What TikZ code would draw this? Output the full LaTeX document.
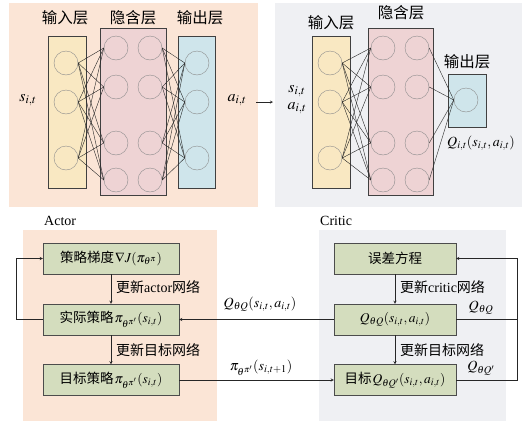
\documentclass[tikz,border=0pt]{standalone}
\usepackage{mathptmx}
\usepackage[no-math]{fontspec}
\setmainfont{Liberation Serif}
\newfontfamily\cjk{Noto Sans CJK SC}
\usepackage{tikz}
\usetikzlibrary{arrows.meta}

\definecolor{peachbg}{HTML}{FBE5D6}
\definecolor{graybg}{HTML}{EFF0F3}
\definecolor{inyellow}{HTML}{F9E8C2}
\definecolor{hidpink}{HTML}{EED3D4}
\definecolor{outblue}{HTML}{CFE5EB}
\definecolor{boxgreen}{HTML}{D4DDBE}
\newcommand{\zh}[1]{{\cjk #1}}

\begin{document}
\begin{tikzpicture}
[x=1pt,y=-1pt,%
  layer/.style={draw=black!75,thin,inner sep=0pt},%
  neuron/.style={shape=circle,draw=black!45,thin,minimum size=24pt,inner sep=0pt},%
  link/.style={-,black!85,thin},%
  title/.style={font=\fontsize{15.5}{17}\selectfont,inner sep=1pt},%
  var/.style={font=\fontsize{16}{18}\selectfont,inner sep=1pt},%
  stepbox/.style={draw=black!70,fill=boxgreen,minimum height=31pt,inner sep=1pt,%
    font=\fontsize{13.5}{15}\selectfont},%
  lbl/.style={font=\fontsize{14}{16}\selectfont,inner sep=1pt},%
  flow/.style={->,>=stealth,thin,black!85}]
\useasboundingbox (0,0) rectangle (528,429);
%% actor network
\fill[peachbg] (9,3) rectangle (258,207);
\node[layer,fill=inyellow,minimum width=38pt,minimum height=152pt] (aIn) at (67,112) {};
\node[layer,fill=hidpink,minimum width=66pt,minimum height=167pt] (aHid) at (133,111.5) {};
\node[layer,fill=outblue,minimum width=37pt,minimum height=152pt] (aOut) at (196.5,112) {};
\node[title] (aInT) at (65,18) {\zh{输入层}};
\node[title] (aHidT) at (133,18) {\zh{隐含层}};
\node[title] (aOutT) at (200,18) {\zh{输出层}};
\foreach \n/\y in {1/63,2/102,3/158}
{
  \node[neuron] (ai\n) at (66,\y) {};
  \node[neuron] (ao\n) at (197,\y) {};
}
\foreach \n/\y in {1/48,2/87,3/143,4/180}
{
  \node[neuron] (ahA\n) at (116,\y) {};
  \node[neuron] (ahB\n) at (150,\y) {};
}
\path
\foreach \i in {1,2,3}
{
  \foreach \j in {1,2,3,4}
  {
    (ai\i.east) edge[link] (ahA\j.west)
    (ahB\j.east) edge[link] (ao\i.west)
  }
};
\node[var] (sIn) at (28,100) {$s_{i,t}$};
\node[var] (aAct) at (237,100) {$a_{i,t}$};
%% critic network
\fill[graybg] (275,3) rectangle (522,207);
\node[layer,fill=inyellow,minimum width=38pt,minimum height=152pt] (cIn) at (331,112) {};
\node[layer,fill=hidpink,minimum width=65pt,minimum height=167pt] (cHid) at (400.5,111.5) {};
\node[layer,fill=outblue,minimum width=38pt,minimum height=53pt] (cOut) at (467,100.5) {};
\node[title] (cInT) at (331,23) {\zh{输入层}};
\node[title] (cHidT) at (401,13) {\zh{隐含层}};
\node[title] (cOutT) at (467,62) {\zh{输出层}};
\foreach \n/\y in {1/63,2/102,3/158}
  \node[neuron] (ci\n) at (330,\y) {};
\foreach \n/\y in {1/48,2/87,3/143,4/180}
{
  \node[neuron] (chA\n) at (383,\y) {};
  \node[neuron] (chB\n) at (417,\y) {};
}
\node[neuron] (co) at (466,100) {};
\path
\foreach \i in {1,2,3}
{
  \foreach \j in {1,2,3,4}
  {
    (ci\i.east) edge[link] (chA\j.west)
  }
};
\path
\foreach \j in {1,2,3,4}
{
  (chB\j.east) edge[link] (co.west)
};
\node[var] (sIn2) at (297,91) {$s_{i,t}$};
\node[var] (aIn2) at (297,108) {$a_{i,t}$};
\node[lbl] (qOut) at (481,143) {$Q_{i,t}(s_{i,t},a_{i,t})$};
\coordinate (gapL) at (256,102);
\coordinate (gapR) at (273,102);
\draw[flow] (gapL) -- (gapR);
%% actor / critic update
\fill[peachbg] (23,230) rectangle (217,421);
\fill[graybg] (319,230) rectangle (506,421);
\node[lbl,anchor=west] (actorT) at (43,221) {Actor};
\node[lbl,anchor=west] (criticT) at (319,221) {Critic};
\node[stepbox,minimum width=136pt] (grad) at (111,258.5)
  {\zh{策略梯度}\kern1pt$\nabla J(\pi_{\theta^{\pi}})$};
\node[stepbox,minimum width=136pt] (pol) at (111,319.5)
  {\zh{实际策略}\kern1pt$\pi_{\theta^{\pi'}}(s_{i,t})$};
\node[stepbox,minimum width=136pt] (tgtPol) at (111,380)
  {\zh{目标策略}\kern1pt$\pi_{\theta^{\pi'}}(s_{i,t})$};
\node[stepbox,minimum width=122pt] (err) at (395,258.5) {\zh{误差方程}};
\node[stepbox,minimum width=122pt] (qNet) at (395,319.5)
  {$Q_{\theta Q}(s_{i,t},a_{i,t})$};
\node[stepbox,minimum width=122pt] (tgtQ) at (395,380)
  {\zh{目标}\kern1pt$Q_{\theta Q'}(s_{i,t},a_{i,t})$};
\path
\foreach \startNode/\endNode in {grad/pol, pol/tgtPol, err/qNet, qNet/tgtQ}
{
  (\startNode) edge[flow] (\endNode)
};
\node[lbl,anchor=west] (updA) at (115,287) {\zh{更新}actor\zh{网络}};
\node[lbl,anchor=west] (updAT) at (115,350) {\zh{更新目标网络}};
\node[lbl,anchor=west] (updC) at (399,287) {\zh{更新}critic\zh{网络}};
\node[lbl,anchor=west] (updCT) at (399,350) {\zh{更新目标网络}};
\draw[flow] (qNet.west) -- (pol.east);
\draw[flow] (tgtPol.east) -- (tgtQ.west);
\node[lbl] (qLbl) at (260,304) {$Q_{\theta Q}(s_{i,t},a_{i,t})$};
\node[lbl] (piLbl) at (261,368) {$\pi_{\theta^{\pi'}}(s_{i,t+1})$};
\coordinate (fbL) at (16,258.5);
\coordinate (fbR) at (517,258.5);
\draw[flow] (pol.west) -| (fbL) -- (grad.west);
\draw[thin,black!85] (qNet.east) -- (qNet.east -| fbR);
\draw[flow] (tgtQ.east) -| (fbR) -- (err.east);
\node[lbl] (qCur) at (481,308) {$Q_{\theta Q}$};
\node[lbl] (qTgt) at (481,368) {$Q_{\theta Q'}$};
\end{tikzpicture}
\end{document}
